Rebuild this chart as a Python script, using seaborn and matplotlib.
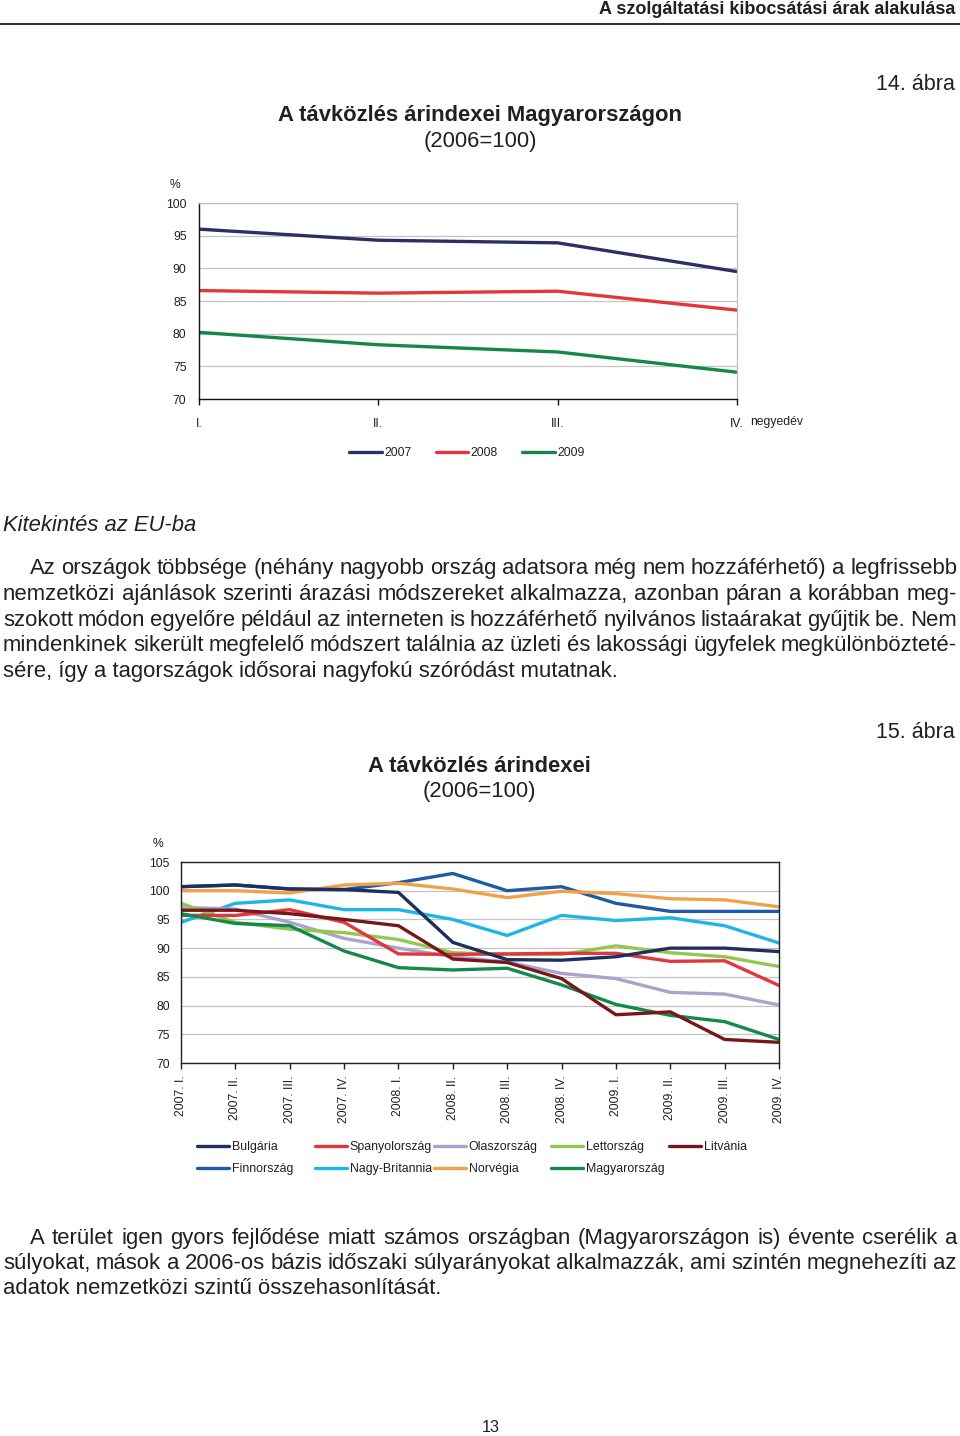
import numpy as np
import pandas as pd
import matplotlib
matplotlib.use("Agg")
import matplotlib.pyplot as plt
import seaborn as sns
from matplotlib.lines import Line2D

# ---------------- data ----------------
quarters_hu = ["I.", "II.", "III.", "IV."]
years = ["2007", "2008", "2009"]
hu_2007 = [96.0, 94.3, 93.9, 89.5]
hu_2008 = [86.6, 86.2, 86.5, 83.6]
hu_2009 = [80.2, 78.3, 77.2, 74.1]

quarters_eu = ["2007. I.", "2007. II.", "2007. III.", "2007. IV.",
               "2008. I.", "2008. II.", "2008. III.", "2008. IV.",
               "2009. I.", "2009. II.", "2009. III.", "2009. IV."]
countries = ["Bulgária", "Finnország", "Spanyolország", "Nagy-Britannia",
             "Olaszország", "Norvégia", "Lettország", "Magyarország", "Litvánia"]
bulgaria = [100.7, 101.0, 100.3, 100.2, 99.7, 91.0, 88.0, 87.9, 88.5, 90.0, 90.0, 89.4]
finnorszag = [100.7, 101.0, 100.3, 100.2, 101.4, 103.0, 100.0, 100.7, 97.8, 96.4, 96.4, 96.4]
spanyolorszag = [95.7, 95.7, 96.7, 94.5, 89.0, 88.9, 89.0, 89.1, 89.1, 87.7, 87.8, 83.5]
nagybritannia = [94.5, 97.8, 98.4, 96.7, 96.7, 95.0, 92.2, 95.7, 94.8, 95.3, 93.9, 90.9]
olaszorszag = [97.1, 96.8, 94.5, 91.7, 90.0, 88.5, 87.6, 85.6, 84.7, 82.3, 82.0, 80.1]
norvegia = [100.0, 100.0, 99.6, 101.0, 101.3, 100.3, 98.8, 99.9, 99.5, 98.6, 98.4, 97.2]
lettorszag = [97.8, 94.5, 93.3, 92.7, 91.5, 89.2, 88.9, 88.9, 90.4, 89.2, 88.5, 86.8]
magyarorszag = [96.0, 94.3, 93.9, 89.5, 86.6, 86.2, 86.5, 83.6, 80.2, 78.3, 77.2, 74.1]
litvania = [96.6, 96.6, 96.0, 95.0, 93.9, 88.1, 87.5, 84.7, 78.4, 78.9, 74.1, 73.6]
series_eu = [bulgaria, finnorszag, spanyolorszag, nagybritannia, olaszorszag,
             norvegia, lettorszag, magyarorszag, litvania]

# ---------------- style ----------------
sns.set_theme(style="white")
plt.rcParams["font.family"] = ["Liberation Sans", "DejaVu Sans"]
TXT = "#231F20"
W, H = 960, 1436
fig = plt.figure(figsize=(9.6, 14.36), dpi=100)
fig.patch.set_facecolor("white")


def fx(x):
    return x / W


def fy(y):
    return 1 - y / H


renderer = fig.canvas.get_renderer()


def para_line(text, x0, x1, ybase, size, justify=True):
    if not justify:
        fig.text(fx(x0), fy(ybase), text, fontsize=size, va="baseline", ha="left", color=TXT)
        return
    words = text.split(" ")
    arts, widths = [], []
    for w in words:
        t = fig.text(0, fy(ybase), w, fontsize=size, va="baseline", ha="left", color=TXT)
        widths.append(t.get_window_extent(renderer=renderer).width)
        arts.append(t)
    gap = (x1 - x0 - sum(widths)) / (len(words) - 1)
    x = x0
    for t, wd in zip(arts, widths):
        t.set_x(fx(x))
        x += wd + gap


# header
fig.text(fx(955), fy(9), "A szolgáltatási kibocsátási árak alakulása", ha="right", va="center",
         fontsize=13, fontweight="bold", color=TXT)
fig.add_artist(Line2D([0, 1], [fy(24), fy(24)], color="#333333", lw=1.5, transform=fig.transFigure))

# ---------------- chart 14 ----------------
fig.text(fx(955), fy(84), "14. ábra", ha="right", va="center", fontsize=15.5, color=TXT)
fig.text(fx(480), fy(116), "A távközlés árindexei Magyarországon", ha="center", va="center",
         fontsize=15.8, fontweight="bold", color=TXT)
fig.text(fx(480), fy(141), "(2006=100)", ha="center", va="center", fontsize=15.8, color=TXT)

ax1 = fig.add_axes([fx(199), fy(399), (737 - 199) / W, (399 - 203) / H])
df1 = pd.DataFrame({
    "x": list(range(4)) * 3,
    "v": hu_2007 + hu_2008 + hu_2009,
    "year": [years[0]] * 4 + [years[1]] * 4 + [years[2]] * 4,
})
pal1 = {"2007": "#2B2F66", "2008": "#E2383D", "2009": "#14874A"}
sns.lineplot(data=df1, x="x", y="v", hue="year", palette=pal1, hue_order=years,
             linewidth=2.4, errorbar=None, ax=ax1, legend=True)
h1, l1 = ax1.get_legend_handles_labels()
ax1.get_legend().remove()
ax1.set_xlim(0, 3)
ax1.set_ylim(70, 100)
ax1.set_yticks(range(70, 101, 5))
ax1.set_xticks(range(4))
ax1.set_xticklabels(quarters_hu)
ax1.set_xlabel("")
ax1.set_ylabel("")
ax1.set_axisbelow(True)
ax1.grid(axis="y", color="#C4C4C4", lw=0.9)
ax1.grid(axis="x", visible=False)
for s in ["left", "bottom"]:
    ax1.spines[s].set_color("#111111")
    ax1.spines[s].set_linewidth(1.0)
for s in ["top", "right"]:
    ax1.spines[s].set_color("#BDBDBD")
    ax1.spines[s].set_linewidth(0.9)
ax1.tick_params(axis="y", length=0, pad=9, labelsize=8.7, labelcolor=TXT)
ax1.tick_params(axis="x", bottom=True, length=4, width=1, color="#111111", direction="out",
                pad=10, labelsize=8.7, labelcolor=TXT)
ax1.text(3.0725, -0.085, "negyedév", transform=ax1.get_xaxis_transform(), fontsize=8.7,
         color=TXT, ha="left", va="top")
fig.text(fx(175), fy(185), "%", ha="center", va="center", fontsize=8.7, color=TXT)
fig.legend(h1, l1, loc="center", bbox_to_anchor=(fx(467), fy(453)), ncol=3, frameon=False,
           fontsize=8.7, handlelength=2.7, handletextpad=0.2, columnspacing=2.0,
           labelcolor=TXT, borderpad=0)

# ---------------- text block ----------------
fig.text(fx(3), fy(531), "Kitekintés az EU-ba", ha="left", va="baseline", fontsize=15.8,
         fontstyle="italic", color=TXT)
p1 = [
    "Az országok többsége (néhány nagyobb ország adatsora még nem hozzáférhető) a legfrissebb",
    "nemzetközi ajánlások szerinti árazási módszereket alkalmazza, azonban páran a korábban meg-",
    "szokott módon egyelőre például az interneten is hozzáférhető nyilvános listaárakat gyűjtik be. Nem",
    "mindenkinek sikerült megfelelő módszert találnia az üzleti és lakossági ügyfelek megkülönbözteté-",
    "sére, így a tagországok idősorai nagyfokú szóródást mutatnak.",
]
base1 = [574, 600, 626, 651, 677]
for i, (line, yb) in enumerate(zip(p1, base1)):
    para_line(line, 30 if i == 0 else 3, 957, yb, 15.9, justify=(i < len(p1) - 1))

# ---------------- chart 15 ----------------
fig.text(fx(955), fy(733), "15. ábra", ha="right", va="center", fontsize=15.5, color=TXT)
fig.text(fx(479), fy(766), "A távközlés árindexei", ha="center", va="center",
         fontsize=15.8, fontweight="bold", color=TXT)
fig.text(fx(479), fy(792), "(2006=100)", ha="center", va="center", fontsize=15.8, color=TXT)

ax2 = fig.add_axes([fx(181), fy(1063), (779 - 181) / W, (1063 - 862) / H])
df2 = pd.DataFrame({
    "x": list(range(len(quarters_eu))) * len(countries),
    "v": sum(series_eu, []),
    "country": [c for c in countries for _ in quarters_eu],
})
pal2 = {
    "Bulgária": "#1F2E5E",
    "Finnország": "#1E5AA5",
    "Spanyolország": "#E0373D",
    "Nagy-Britannia": "#1DB6E7",
    "Olaszország": "#ACA2CE",
    "Norvégia": "#F2A14B",
    "Lettország": "#93C74F",
    "Magyarország": "#13894A",
    "Litvánia": "#781719",
}
draw_order = ["Finnország", "Norvégia", "Nagy-Britannia", "Olaszország", "Lettország",
              "Spanyolország", "Bulgária", "Magyarország", "Litvánia"]
sns.lineplot(data=df2, x="x", y="v", hue="country", palette=pal2, hue_order=draw_order,
             linewidth=2.4, errorbar=None, ax=ax2, legend=True)
h2, l2 = ax2.get_legend_handles_labels()
hmap = dict(zip(l2, h2))
ax2.get_legend().remove()
ax2.set_xlim(0, len(quarters_eu) - 1)
ax2.set_ylim(70, 105)
ax2.set_yticks(range(70, 106, 5))
ax2.set_xticks(range(len(quarters_eu)))
ax2.set_xticklabels(quarters_eu, rotation=90)
ax2.set_xlabel("")
ax2.set_ylabel("")
ax2.set_axisbelow(True)
ax2.grid(axis="y", color="#C4C4C4", lw=0.9)
ax2.grid(axis="x", visible=False)
for s in ["left", "bottom", "top", "right"]:
    ax2.spines[s].set_color("#222222")
    ax2.spines[s].set_linewidth(1.0)
ax2.tick_params(axis="y", length=0, pad=8, labelsize=8.7, labelcolor=TXT)
ax2.tick_params(axis="x", bottom=True, length=4, width=1, color="#222222", direction="out",
                pad=5, labelsize=8.7, labelcolor=TXT)
fig.text(fx(158), fy(844), "%", ha="center", va="center", fontsize=8.7, color=TXT)

# legend in five columns
cols = [["Bulgária", "Finnország"], ["Spanyolország", "Nagy-Britannia"],
        ["Olaszország", "Norvégia"], ["Lettország", "Magyarország"], ["Litvánia"]]
col_x = [197, 315, 434, 551, 669]
for names, cx in zip(cols, col_x):
    fig.legend([hmap[n] for n in names], names, loc="upper left",
               bbox_to_anchor=(fx(cx), fy(1141)), frameon=False, fontsize=8.9,
               handlelength=2.6, handletextpad=0.2, labelspacing=0.8,
               borderpad=0, borderaxespad=0, labelcolor=TXT)

# ---------------- closing text ----------------
p2 = [
    "A terület igen gyors fejlődése miatt számos országban (Magyarországon is) évente cserélik a",
    "súlyokat, mások a 2006-os bázis időszaki súlyarányokat alkalmazzák, ami szintén megnehezíti az",
    "adatok nemzetközi szintű összehasonlítását.",
]
base2 = [1244, 1269, 1294]
for i, (line, yb) in enumerate(zip(p2, base2)):
    para_line(line, 30 if i == 0 else 3, 957, yb, 15.9, justify=(i < len(p2) - 1))

fig.text(fx(491), fy(1427), "13", ha="center", va="center", fontsize=11.7, color=TXT)

fig.savefig("out.png", dpi=100, facecolor="white")
